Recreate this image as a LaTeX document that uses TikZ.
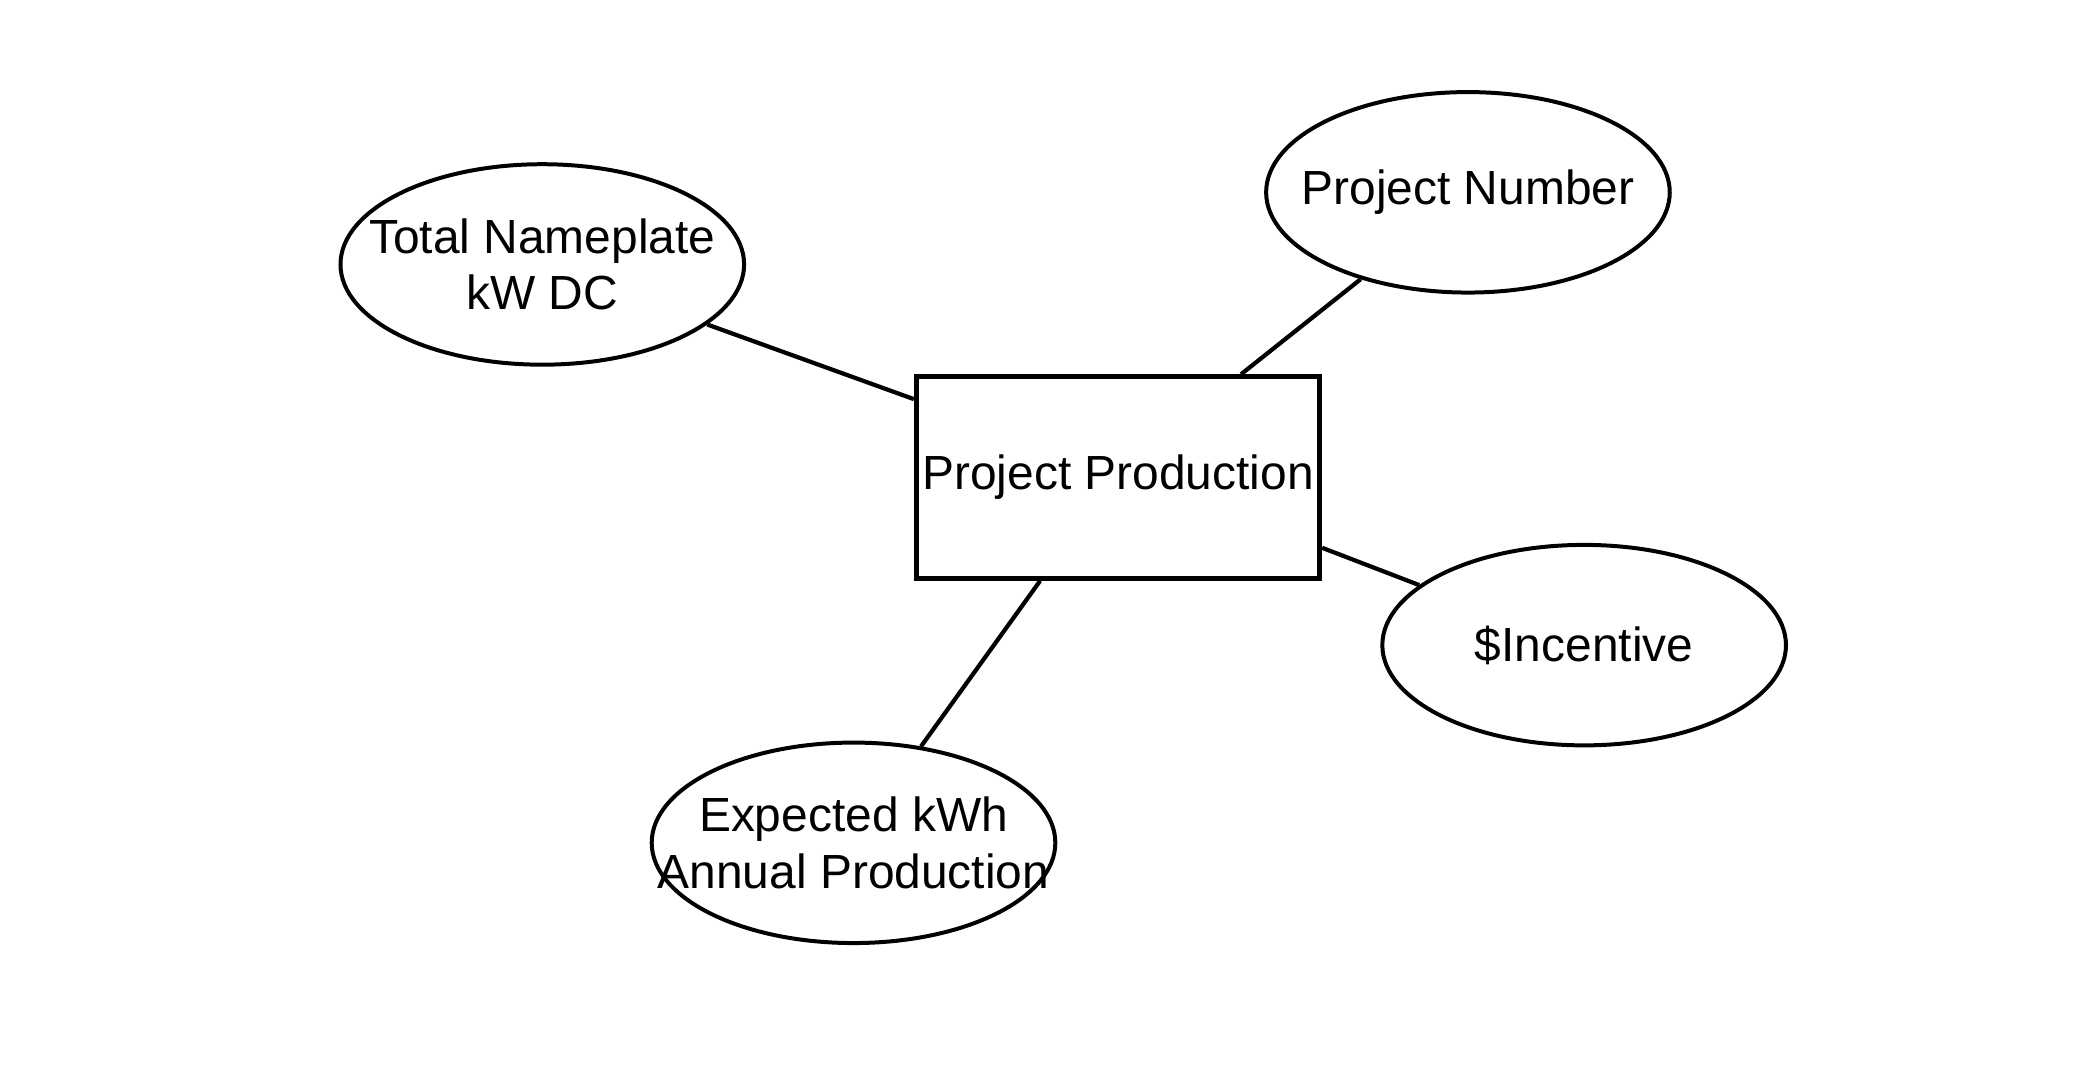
\documentclass[tikz,border=0pt]{standalone}
\usepackage{fontspec}
\setmainfont{Liberation Sans}
\usetikzlibrary{shapes.geometric}

\begin{document}
\begin{tikzpicture}[x=0.01cm, y=-0.01cm,
    attr/.style={draw, line width=0.85pt, ellipse, inner sep=0pt,
      minimum width=3.02cm, minimum height=1.5cm},
    entity/.style={draw, line width=1pt, rectangle, inner sep=0pt,
      minimum width=3.02cm, minimum height=1.51cm},
    txt/.style={align=center, font=\fontsize{10.2}{12}\selectfont}]
    \useasboundingbox (0,0) rectangle (1552,801);
    \node [entity, txt] (prod) at (837,357.5) {Project Production};
    \node [attr, label={[txt]center:Total Nameplate\\kW DC}] (kwdc) at (406,198) {};
    \node [attr, label={[txt]center:Project Number}] (num) at (1099,144) {};
    \node [attr, label={[txt]center:\$Incentive}] (incent) at (1186,483) {};
    \node [attr, label={[txt]center:Expected kWh\\Annual Production}] (kwh) at (639,631) {};
    \draw [line width=0.9pt] (kwdc.-20) -- (prod.159)
          (num.219) -- (prod.40)
          (incent.160) -- (prod.-19.5)
          (kwh.55) -- (prod.233);
  \end{tikzpicture}
\end{document}
